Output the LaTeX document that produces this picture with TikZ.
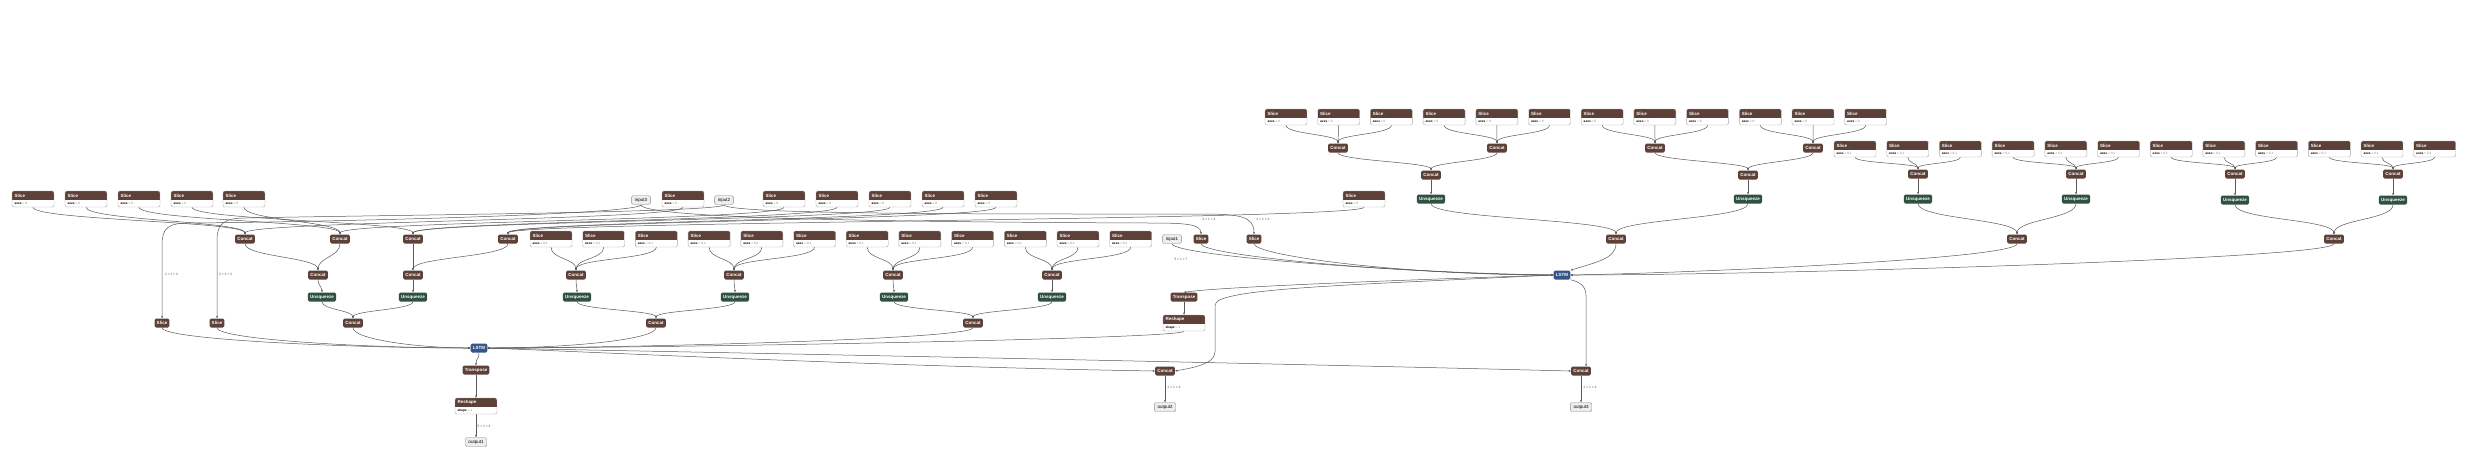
\documentclass[tikz,border=0pt]{standalone}
\usepackage{fontspec}
\setmainfont{Liberation Sans}
\usetikzlibrary{arrows.meta,calc}
\definecolor{opbrown}{HTML}{5D4037}
\definecolor{opgreen}{HTML}{2F5240}
\definecolor{opblue}{HTML}{335588}
\definecolor{iofill}{HTML}{EEEEEE}
\definecolor{edgec}{HTML}{585858}
\pgfdeclarelayer{back}
\pgfdeclarelayer{bg}
\pgfsetlayers{back,bg,main}
\newcommand{\mkatt}[5]{%
  \node[attbox] (#1) at (#2,#3) {};
  \node[atttitle,anchor=west] (#1t) at ([xshift=2.5pt,yshift=-4.6pt]#1.north west) {#4};
  \node[attline,anchor=west] (#1a) at ([xshift=2.5pt,yshift=3.4pt]#1.south west) {#5};
}
\newcommand{\axs}[1]{\textbf{axes}\ \textcolor{black!50}{= #1}}
\newcommand{\ced}[3]{\draw[cedge] (#1.south) .. controls +(0,-#3) and +(0,#3) .. (#2.north);}
\begin{document}
\begin{tikzpicture}[x=1pt,y=1pt,
  op/.style={fill=opbrown, text=white, rounded corners=1.5pt, minimum height=9pt, inner xsep=2.2pt, inner ysep=0pt, font=\fontsize{4.5}{5}\selectfont\bfseries},
  grn/.style={op, fill=opgreen},
  blu/.style={op, fill=opblue},
  io/.style={draw=black!45, fill=iofill, text=black, rounded corners=1.5pt, minimum height=9pt, inner xsep=3.2pt, inner ysep=0pt, line width=0.4pt, font=\fontsize{4.5}{5}\selectfont},
  attbox/.style={draw=black!35, fill=white, rounded corners=1.5pt, minimum width=42pt, minimum height=16pt, inner sep=0pt, line width=0.4pt,
    path picture={\fill[opbrown,sharp corners] ([yshift=1pt]path picture bounding box.north west) rectangle ([yshift=-9pt]path picture bounding box.north east);}},
  atttitle/.style={text=white, inner sep=0pt, font=\fontsize{4.5}{5}\selectfont\bfseries},
  attline/.style={inner sep=0pt, font=\fontsize{3.2}{3.5}\selectfont},
  cedge/.style={draw=edgec, line width=0.5pt, -{Stealth[length=2.4pt,width=2pt]}},
  elab/.style={font=\fontsize{3.2}{3.5}\selectfont, text=black!70, inner sep=0.5pt}]
\useasboundingbox (0,0) rectangle (2475,-475);
\begin{pgfonlayer}{back}
\fill[white] (0,0) rectangle (2475,-475);
\end{pgfonlayer}

% ---------- Row A (top right) ----------
\foreach \k in {0,...,11}{\pgfmathsetmacro\xx{1286+52.7*\k}\mkatt{sA\k}{\xx}{-117}{Slice}{\axs{0}}}
\node[op] (cA0) at (1338,-148) {Concat};
\node[op] (cA1) at (1497,-148) {Concat};
\node[op] (cA2) at (1655,-148) {Concat};
\node[op] (cA3) at (1813,-148) {Concat};
\node[op] (dA0) at (1431,-175) {Concat};
\node[op] (dA1) at (1748,-175) {Concat};
\node[grn] (uA0) at (1431,-199) {Unsqueeze};
\node[grn] (uA1) at (1748,-199) {Unsqueeze};
\node[op] (eA) at (1616,-239) {Concat};

% ---------- Row B ----------
\foreach \k in {0,...,11}{\pgfmathsetmacro\xx{1855+52.7*\k}\mkatt{sB\k}{\xx}{-149}{Slice}{\axs{0,1}}}
\node[op] (cB0) at (1918,-174) {Concat};
\node[op] (cB1) at (2076,-174) {Concat};
\node[op] (cB2) at (2235,-174) {Concat};
\node[op] (cB3) at (2393,-174) {Concat};
\node[grn] (uB0) at (1918,-199) {Unsqueeze};
\node[grn] (uB1) at (2076,-199) {Unsqueeze};
\node[grn] (uB2) at (2235,-200) {Unsqueeze};
\node[grn] (uB3) at (2393,-200) {Unsqueeze};
\node[op] (eB0) at (2017,-239) {Concat};
\node[op] (eB1) at (2334,-239) {Concat};

\node[blu] (r1) at (1562,-275) {LSTM};

% ---------- Left top row ----------
\foreach \k/\xx in {0/33,1/86,2/139,3/192,4/244,5/683,6/784,7/837,8/890,9/943,10/996,11/1364}{\mkatt{t\k}{\xx}{-199}{Slice}{\axs{0}}}
\node[io] (in3) at (641,-200) {input3};
\node[io] (in2) at (724,-200) {input2};

\node[op] (c245) at (245,-239) {Concat};
\node[op] (c340) at (340,-239) {Concat};
\node[op] (c413) at (413,-239) {Concat};
\node[op] (c508) at (508,-239) {Concat};
\foreach \k in {0,...,11}{\pgfmathsetmacro\xx{551+52.7*\k}\mkatt{rS\k}{\xx}{-239}{Slice}{\axs{0,1}}}
\node[io] (in1) at (1172,-239) {input1};
\node[op] (sl1201) at (1201,-239) {Slice};
\node[op] (sl1254) at (1254,-239) {Slice};

\node[op] (c318) at (318,-275) {Concat};
\node[op] (c413b) at (413,-275) {Concat};
\node[op] (c576) at (576,-275) {Concat};
\node[op] (c734) at (734,-275) {Concat};
\node[op] (c893) at (893,-275) {Concat};
\node[op] (c1052) at (1052,-275) {Concat};

\node[grn] (u322) at (322,-297) {Unsqueeze};
\node[grn] (u413) at (413,-297) {Unsqueeze};
\node[grn] (u577) at (577,-297) {Unsqueeze};
\node[grn] (u735) at (735,-297) {Unsqueeze};
\node[grn] (u894) at (894,-297) {Unsqueeze};
\node[grn] (u1052) at (1052,-297) {Unsqueeze};
\node[op] (tr2) at (1184,-297) {Transpose};

\node[op] (sl162) at (162,-323) {Slice};
\node[op] (sl217) at (217,-323) {Slice};
\node[op] (c353) at (353,-323) {Concat};
\node[op] (c656) at (656,-323) {Concat};
\node[op] (c973) at (973,-323) {Concat};
\mkatt{rs2}{1184}{-323}{Reshape}{\textbf{shape}\ \textcolor{black!50}{= 1}}

\node[blu] (l1) at (479,-348) {LSTM};
\node[op] (tr1) at (476,-370) {Transpose};
\node[op] (c1165) at (1165,-371) {Concat};
\node[op] (c1581) at (1581,-371) {Concat};
\mkatt{rs1}{476}{-406}{Reshape}{\textbf{shape}\ \textcolor{black!50}{= 1}}
\node[io] (out2) at (1165,-407) {output2};
\node[io] (out3) at (1581,-407) {output3};
\node[io] (out1) at (476,-442) {output1};

% edge labels
\node[elab] (lb1) at (171.5,-274) {2 × 1 × 3};
\node[elab] (lb2) at (225.5,-274) {2 × 1 × 3};
\node[elab] (lb3) at (1209,-219) {2 × 1 × 3};
\node[elab] (lb4) at (1263,-219) {2 × 1 × 3};
\node[elab] (lb5) at (1181,-259) {5 × 1 × 7};
\node[elab] (lb6) at (484,-426) {5 × 1 × 3};
\node[elab] (lb7) at (1174,-387) {2 × 1 × 3};
\node[elab] (lb8) at (1590,-387) {2 × 1 × 3};

\begin{pgfonlayer}{bg}
% Row A tree
\foreach \j in {0,...,3}{\foreach \i in {0,1,2}{\pgfmathtruncatemacro\kk{3*\j+\i}\ced{sA\kk}{cA\j}{9}}}
\ced{cA0}{dA0}{8} \ced{cA1}{dA0}{8} \ced{cA2}{dA1}{8} \ced{cA3}{dA1}{8}
\draw[cedge] (dA0.south) -- (uA0.north);
\draw[cedge] (dA1.south) -- (uA1.north);
\ced{uA0}{eA}{15} \ced{uA1}{eA}{15}
% Row B tree
\foreach \j in {0,...,3}{\foreach \i in {0,1,2}{\pgfmathtruncatemacro\kk{3*\j+\i}\ced{sB\kk}{cB\j}{6}}}
\foreach \j in {0,...,3}{\draw[cedge] (cB\j.south) -- (uB\j.north);}
\ced{uB0}{eB0}{15} \ced{uB1}{eB0}{15} \ced{uB2}{eB1}{15} \ced{uB3}{eB1}{15}
% into right LSTM
\draw[cedge] (eA.south) .. controls +(0,-15) and +(25,8) .. (r1.north east);
\draw[cedge] (eB0.south) .. controls +(0,-15) and +(120,2) .. (r1.east);
\draw[cedge] (eB1.south) .. controls +(0,-15) and +(200,0) .. (r1.east);
\draw[cedge] (in1.south) .. controls +(0,-12) and +(-150,2) .. (r1.west);
\draw[cedge] (sl1201.south) .. controls +(0,-12) and +(-150,1) .. (r1.west);
\draw[cedge] (sl1254.south) .. controls +(0,-12) and +(-150,0) .. (r1.west);
% out of right LSTM
\draw[cedge] (r1.west) .. controls +(-120,-4) and +(40,6) .. (tr2.north);
\draw[cedge] (r1.west) .. controls +(-200,-10) and (1215,-288) .. (1215,-305) -- (1215,-352) .. controls (1215,-364) and (1192,-368) .. (c1165.east);
\draw[cedge] (r1.south east) .. controls (1580,-282) and (1586,-286) .. (1586,-296) -- ([xshift=5pt]c1581.north);
\draw[cedge] (tr2.south) -- (rs2.north);
% left top tree
\foreach \s/\c in {t0/c245,t1/c245,t5/c245,t2/c340,t4/c340,t6/c340,t3/c413,t7/c413,t8/c413,t9/c508,t10/c508,t11/c508}{\ced{\s}{\c}{13}}
\ced{c245}{c318}{13} \ced{c340}{c318}{13}
\draw[cedge] (c413.south) -- (c413b.north);
\ced{c508}{c413b}{13}
\ced{c318}{u322}{5}
\draw[cedge] (c413b.south) -- (u413.north);
\ced{u322}{c353}{8} \ced{u413}{c353}{8}
% row 2 tree
\foreach \j/\c in {0/c576,1/c734,2/c893,3/c1052}{\foreach \i in {0,1,2}{\pgfmathtruncatemacro\kk{3*\j+\i}\ced{rS\kk}{\c}{12}}}
\ced{c576}{u577}{5} \ced{c734}{u735}{5} \ced{c893}{u894}{5} \ced{c1052}{u1052}{5}
\ced{u577}{c656}{8} \ced{u735}{c656}{8} \ced{u894}{c973}{8} \ced{u1052}{c973}{8}
% inputs 2/3 to slices
\draw[cedge] (in3.south) .. controls +(0,-10) and (320,-222) .. (190,-223) .. controls (168,-223) and (162,-228) .. (162,-245) -- (sl162.north);
\draw[cedge] (in2.south) .. controls +(0,-8) and (380,-215) .. (245,-218) .. controls (224,-218) and (217,-224) .. (217,-240) -- (sl217.north);
\draw[cedge] (in3.south) .. controls +(0,-14) and (900,-222) .. (1150,-223) .. controls (1185,-223) and (1201,-224) .. (sl1201.north);
\draw[cedge] (in2.south) .. controls +(0,-10) and (1000,-214) .. (1200,-214) .. controls (1240,-214) and (1254,-216) .. (sl1254.north);
% into left LSTM
\draw[cedge] (sl162.south) .. controls +(0,-12) and +(-120,0) .. (l1.west);
\draw[cedge] (sl217.south) .. controls +(0,-12) and +(-100,0) .. (l1.west);
\draw[cedge] (c353.south) .. controls +(0,-12) and +(-50,0) .. (l1.west);
\draw[cedge] (c656.south) .. controls +(0,-12) and +(80,0) .. (l1.east);
\draw[cedge] (c973.south) .. controls +(0,-12) and +(120,0) .. (l1.east);
\draw[cedge] (rs2.south) .. controls +(0,-8) and +(150,0) .. (l1.east);
% out of left LSTM
\draw[cedge] (l1.south) .. controls +(0,-8) and +(0,8) .. (tr1.north);
\draw[cedge] (tr1.south) -- (rs1.north);
\draw[cedge] (rs1.south) -- (out1.north);
\draw[cedge] (l1.east) .. controls +(150,-6) and +(-250,4) .. (c1165.west);
\draw[cedge] (l1.east) .. controls +(200,-4) and +(-400,10) .. (c1581.west);
\draw[cedge] (c1165.south) -- (out2.north);
\draw[cedge] (c1581.south) -- (out3.north);
\end{pgfonlayer}
\end{tikzpicture}
\end{document}
